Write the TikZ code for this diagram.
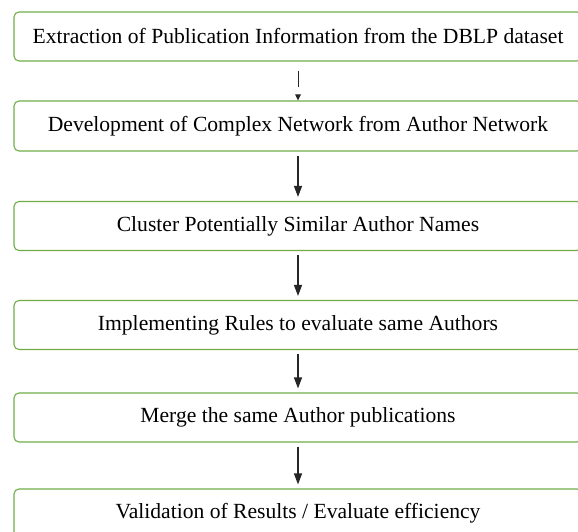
\documentclass[tikz,border=0pt]{standalone}
\usepackage{fontspec}
\setmainfont{Liberation Serif}
\usetikzlibrary{
    arrows.meta,
    positioning
}
\definecolor{boxgreen}{RGB}{112,173,71}
\tikzset{
    phase/.style={draw=boxgreen, line width=1.1pt, rounded corners=5pt, fill=white,
        minimum width=568pt, inner sep=0pt, font=\fontsize{21.6}{26}\selectfont},
    flow/.style={draw=black!85, line width=1.2pt, -{Triangle[width=8pt,length=11pt]},
        shorten <=4pt, shorten >=4pt}
}

\begin{document}
\begin{tikzpicture}[x=1pt, y=-1pt]
                        \useasboundingbox (0,0) rectangle (578,532);
                        \fill[white] (0,0) rectangle (578,532);
                        \clip (0,0) rectangle (578,532);
                        \node[phase, minimum height=49pt] (extract) at (298, 36.5) {Extraction of Publication Information from the DBLP dataset};
                        \node[phase, minimum height=50pt] (develop) at (298, 126) {Development of Complex Network from Author Network};
                        \node[phase, minimum height=49pt] (cluster) at (298, 226) {Cluster Potentially Similar Author Names};
                        \node[phase, minimum height=49pt] (rules) at (298, 325) {Implementing Rules to evaluate same Authors};
                        \node[phase, minimum height=49pt] (merge) at (298, 417.5) {Merge the same Author publications};
                        \node[phase, minimum height=49pt] (validate) at (298, 513.5) {Validation of Results / Evaluate efficiency};
                        \draw
                        (extract) edge[flow, line width=1pt, -{Triangle[width=5.5pt,length=6pt]}, shorten <=9pt, shorten >=0pt, dash pattern=on 16pt off 40pt] (develop)
                        (develop) edge[flow] (cluster)
                        (cluster) edge[flow] (rules)
                        (rules) edge[flow] (merge)
                        (merge) edge[flow] (validate);
                    \end{tikzpicture}
\end{document}
